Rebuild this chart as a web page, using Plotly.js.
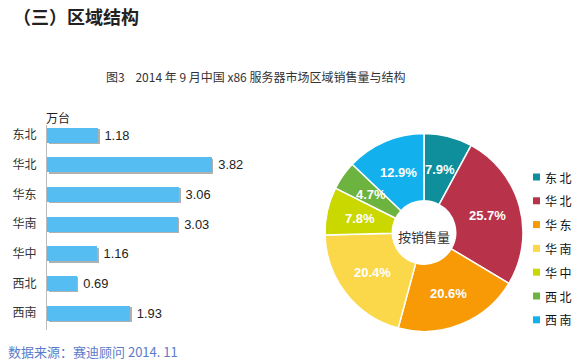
<!DOCTYPE html>
<html><head><meta charset="utf-8">
<script src="https://cdn.plot.ly/plotly-3.0.1.min.js"></script>
<style>html,body{margin:0;padding:0;background:#fff}#c{width:580px;height:361px}</style>
</head><body><div id="c"></div>
<script>
const regions = ['东北','华北','华东','华南','华中','西北','西南'];
const salesWan = [1.18, 3.82, 3.06, 3.03, 1.16, 0.69, 1.93];
const sharePct = [7.9, 25.7, 20.6, 20.4, 7.8, 4.7, 12.9];
const pieColors = ['#0e8f9b','#b8334a','#f79a06','#fbd84a','#cbd800','#6db33f','#12b1ee'];
const barColor = '#55bdf2';
const unitLabel = '万台';
const centerLabel = '按销售量';
const pageTitle = '（三）区域结构';
const chartTitle = '图3\u00a0\u00a0\u00a0\u00a02014 年 9 月中国 x86 服务器市场区域销售量与结构';
const sourceText = '数据来源：赛迪顾问 2014. 11';

const font = 'Noto Sans CJK SC, Noto Sans, sans-serif';
const W = 580, H = 361;
const pieBox = {x0:325, x1:523, y0:133, y1:332};
const holeFrac = 0.32;

const shadow = {
  type:'bar', orientation:'h', y:regions, x:salesWan, base:0.04,
  width:0.5, offset:-0.2, marker:{color:'#b0b0b0'}, hoverinfo:'skip',
  xaxis:'x', yaxis:'y', showlegend:false
};
const bars = {
  type:'bar', orientation:'h', y:regions, x:salesWan,
  width:0.5, offset:-0.25, marker:{color:barColor},
  text:salesWan.map(v=>'\u00a0'+v.toFixed(2)), textposition:'outside',
  textfont:{family:'Liberation Sans, Arial, sans-serif', size:13, color:'#222'}, cliponaxis:false,
  xaxis:'x', yaxis:'y', showlegend:false
};
const pie = {
  type:'pie', labels:regions, values:sharePct, sort:false, direction:'clockwise', rotation:0,
  hole:holeFrac, domain:{x:[pieBox.x0/W, pieBox.x1/W], y:[1-pieBox.y1/H, 1-pieBox.y0/H]},
  marker:{colors:pieColors, line:{color:'#fff', width:1.5}},
  textinfo:'none', showlegend:false
};

const annotations = [
  {xref:'paper', yref:'paper', x:11/W, y:1-16/H, xanchor:'left', yanchor:'middle', showarrow:false,
   text:'<b>'+pageTitle+'</b>', font:{family:font, size:18, color:'#222'}},
  {xref:'paper', yref:'paper', x:255/W, y:1-77/H, xanchor:'center', yanchor:'middle', showarrow:false,
   text:chartTitle, font:{family:font, size:12, color:'#333'}},
  {xref:'paper', yref:'paper', x:44/W, y:1-117/H, xanchor:'left', yanchor:'middle', showarrow:false,
   text:unitLabel, font:{family:font, size:12, color:'#222'}},
  {xref:'paper', yref:'paper', x:424/W, y:1-237/H, xanchor:'center', yanchor:'middle', showarrow:false,
   text:centerLabel, font:{family:font, size:13, color:'#333'}},
  {xref:'paper', yref:'paper', x:6/W, y:1-351/H, xanchor:'left', yanchor:'middle', showarrow:false,
   text:sourceText, font:{family:font, size:13, color:'#5b7bc9'}}
];

// slice labels at the middle of the ring, at each slice's mid angle
const total = sharePct.reduce((a,b)=>a+b,0);
const cx = (pieBox.x0+pieBox.x1)/2, cy = (pieBox.y0+pieBox.y1)/2;
const R = (pieBox.x1-pieBox.x0)/2, rMid = R*(1+holeFrac)/2;
let cum = 0;
sharePct.forEach(v=>{
  const th = 2*Math.PI*(cum + v/2)/total;
  cum += v;
  const px = cx + rMid*Math.sin(th), py = cy - rMid*Math.cos(th);
  annotations.push({xref:'paper', yref:'paper', x:px/W, y:1-py/H, xanchor:'center', yanchor:'middle',
    showarrow:false, text:'<b>'+v.toFixed(1)+'%</b>',
    font:{family:'Liberation Sans, Arial, sans-serif', size:13, color:'#fff'}});
});

const shapes = [];
regions.forEach((r,i)=>{
  const yc = 177 + i*23.8;
  shapes.push({type:'rect', xref:'paper', yref:'paper', x0:533/W, x1:540/W,
    y0:1-(yc+3.5)/H, y1:1-(yc-3.5)/H, fillcolor:pieColors[i], line:{width:0}});
  annotations.push({xref:'paper', yref:'paper', x:543/W, y:1-yc/H, xanchor:'left', yanchor:'middle',
    showarrow:false, text:r.split('').join('\u2009'), font:{family:font, size:12, color:'#111'}});
});

const layout = {
  width:W, height:H, margin:{l:0,r:0,t:0,b:0}, paper_bgcolor:'#fff', plot_bgcolor:'#fff',
  barmode:'overlay', bargap:0,
  xaxis:{domain:[47/W, 241/W], range:[0,4.5], visible:false, fixedrange:true},
  yaxis:{domain:[1-330/H, 1-125/H], type:'category', range:[6.57,-0.34], showgrid:false,
    showline:true, linecolor:'#bbb', linewidth:1, ticks:'', ticklabelstandoff:7,
    tickfont:{family:font, size:12, color:'#333'}, zeroline:false},
  annotations:annotations, shapes:shapes, showlegend:false
};
Plotly.newPlot('c', [shadow, bars, pie], layout, {staticPlot:true});
</script></body></html>
